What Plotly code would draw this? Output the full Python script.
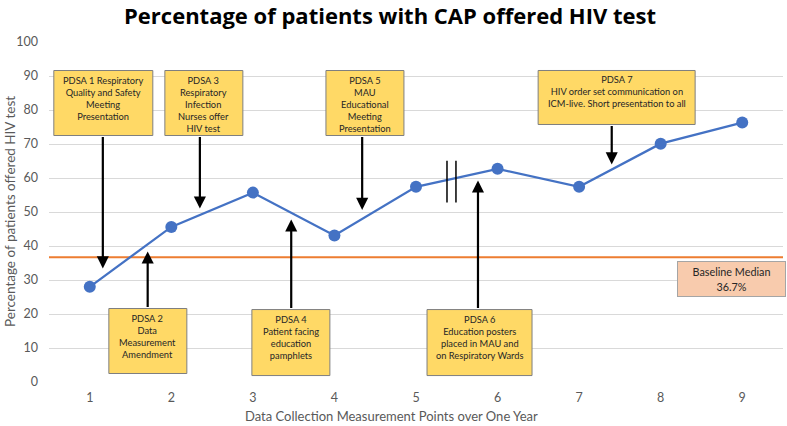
import plotly.graph_objects as go

# ---- data ----
points = [1, 2, 3, 4, 5, 6, 7, 8, 9]
pct_offered = [28.0, 45.6, 55.7, 43.1, 57.4, 62.7, 57.4, 70.1, 76.3]
baseline_median = 36.7
y_ticks = [0, 10, 20, 30, 40, 50, 60, 70, 80, 90, 100]

# PDSA intervention boxes: label, box centre (x, y), width/height in px
box_labels = [
    "PDSA 1 Respiratory<br>Quality and Safety<br>Meeting<br>Presentation",
    "PDSA 3<br>Respiratory<br>Infection<br>Nurses offer<br>HIV test",
    "PDSA 5<br>MAU<br>Educational<br>Meeting<br>Presentation",
    "PDSA 7<br>HIV order set communication on<br>ICM-live. Short presentation to all",
    "PDSA 2<br>Data<br>Measurement<br>Amendment",
    "PDSA 4<br>Patient facing<br>education<br>pamphlets",
    "PDSA 6<br>Education posters<br>placed in MAU and<br>on Respiratory Wards",
]
box_x = [1.166, 2.399, 4.374, 7.46, 1.712, 3.466, 5.779]
box_y = [82.06, 82.06, 82.06, 83.68, 12.06, 11.6, 11.6]
box_w = [99, 78, 78, 157, 78, 78, 105]
box_h = [65, 65, 65, 54, 65, 66, 66]

# arrows: x, tail y, tip y
arrow_x = [1.16, 2.35, 4.34, 7.40, 1.71, 3.47, 5.76]
arrow_from = [72.5, 72.5, 72.5, 75.7, 21.6, 21.3, 21.3]
arrow_to = [33.4, 51.0, 50.6, 64.0, 38.4, 47.8, 59.3]

# break marks
break_x = [5.38, 5.49]
break_y = [52.8, 65.1]

FONT = "Lato, sans-serif"
TXT = "#595959"

fig = go.Figure()

fig.add_trace(go.Scatter(
    x=points, y=pct_offered, mode="lines+markers",
    line=dict(color="#4472C4", width=2.25),
    marker=dict(color="#4472C4", size=12),
    showlegend=False,
))

shapes = [dict(type="line", xref="x domain", yref="y", x0=0, x1=1,
               y0=baseline_median, y1=baseline_median,
               line=dict(color="#ED7D31", width=2), layer="below")]
shapes += [dict(type="line", xref="x", yref="y", x0=bx, x1=bx,
                y0=break_y[0], y1=break_y[1], line=dict(color="#000000", width=1.5))
           for bx in break_x]

annotations = []
for lab, bx, by, bw, bh in zip(box_labels, box_x, box_y, box_w, box_h):
    shapes.append(dict(
        type="rect", xref="x", yref="y", xsizemode="pixel", ysizemode="pixel",
        xanchor=bx, yanchor=by, x0=-bw / 2, x1=bw / 2, y0=-bh / 2, y1=bh / 2,
        fillcolor="#FFD966", line=dict(color="#7F7F7F", width=1), layer="above",
    ))
    annotations.append(dict(
        x=bx, y=by, xref="x", yref="y", text=lab, showarrow=False,
        align="center", xanchor="center", yanchor="top", yshift=bh / 2 - 3,
        borderpad=0, font=dict(family=FONT, size=9.3, color="#262626"),
    ))

for ax_, y0, y1 in zip(arrow_x, arrow_from, arrow_to):
    annotations.append(dict(
        x=ax_, y=y1, ax=ax_, ay=y0, xref="x", yref="y", axref="x", ayref="y",
        text="", showarrow=True, arrowhead=2, arrowsize=1.1, arrowwidth=2.2,
        arrowcolor="#000000", standoff=0, startstandoff=0,
    ))

annotations.append(dict(
    x=8.865, y=30.4, xref="x", yref="y",
    text="Baseline Median<br>" + f"{baseline_median}%", showarrow=False,
    width=107, height=34, align="center", valign="middle",
    bgcolor="#F8CBAD", bordercolor="#A5A5A5", borderwidth=1, borderpad=0,
    font=dict(family=FONT, size=10.8, color="#262626"),
    xanchor="center", yanchor="middle",
))

annotations.append(dict(
    x=0, y=0.5, xref="paper", yref="paper", xshift=-39,
    xanchor="center", yanchor="middle",
    text="Percentage of patients offered HIV test", textangle=-90,
    showarrow=False, font=dict(family=FONT, size=13.5, color=TXT),
))
annotations.append(dict(
    x=0.467, y=0, xref="paper", yref="paper", yshift=-34,
    xanchor="center", yanchor="middle",
    text="Data Collection Measurement Points over One Year",
    showarrow=False, font=dict(family=FONT, size=13, color=TXT),
))

fig.update_layout(
    width=787, height=426,
    margin=dict(l=49, r=4, t=42, b=44),
    paper_bgcolor="white", plot_bgcolor="white",
    title=dict(text="<b>Percentage of patients with CAP offered HIV test</b>",
               x=390 / 787, xanchor="center", y=1 - 16 / 426, yanchor="middle",
               font=dict(family="Open Sans, sans-serif", size=22, color="#000000")),
    xaxis=dict(range=[0.5, 9.5], tickvals=points, ticktext=[str(p) for p in points],
               showgrid=False, zeroline=False, showline=False, ticks="",
               ticklabelstandoff=6,
               tickfont=dict(family=FONT, size=12.5, color=TXT)),
    yaxis=dict(range=[0, 100], tickvals=y_ticks, showgrid=True, gridcolor="#D9D9D9",
               gridwidth=1, zeroline=False, showline=False, ticks="",
               ticklabelstandoff=10,
               tickfont=dict(family=FONT, size=12.5, color=TXT)),
    annotations=annotations, shapes=shapes,
)

fig.write_html("out.html", config={"displayModeBar": False},
               post_script="document.body.style.margin='0';")
